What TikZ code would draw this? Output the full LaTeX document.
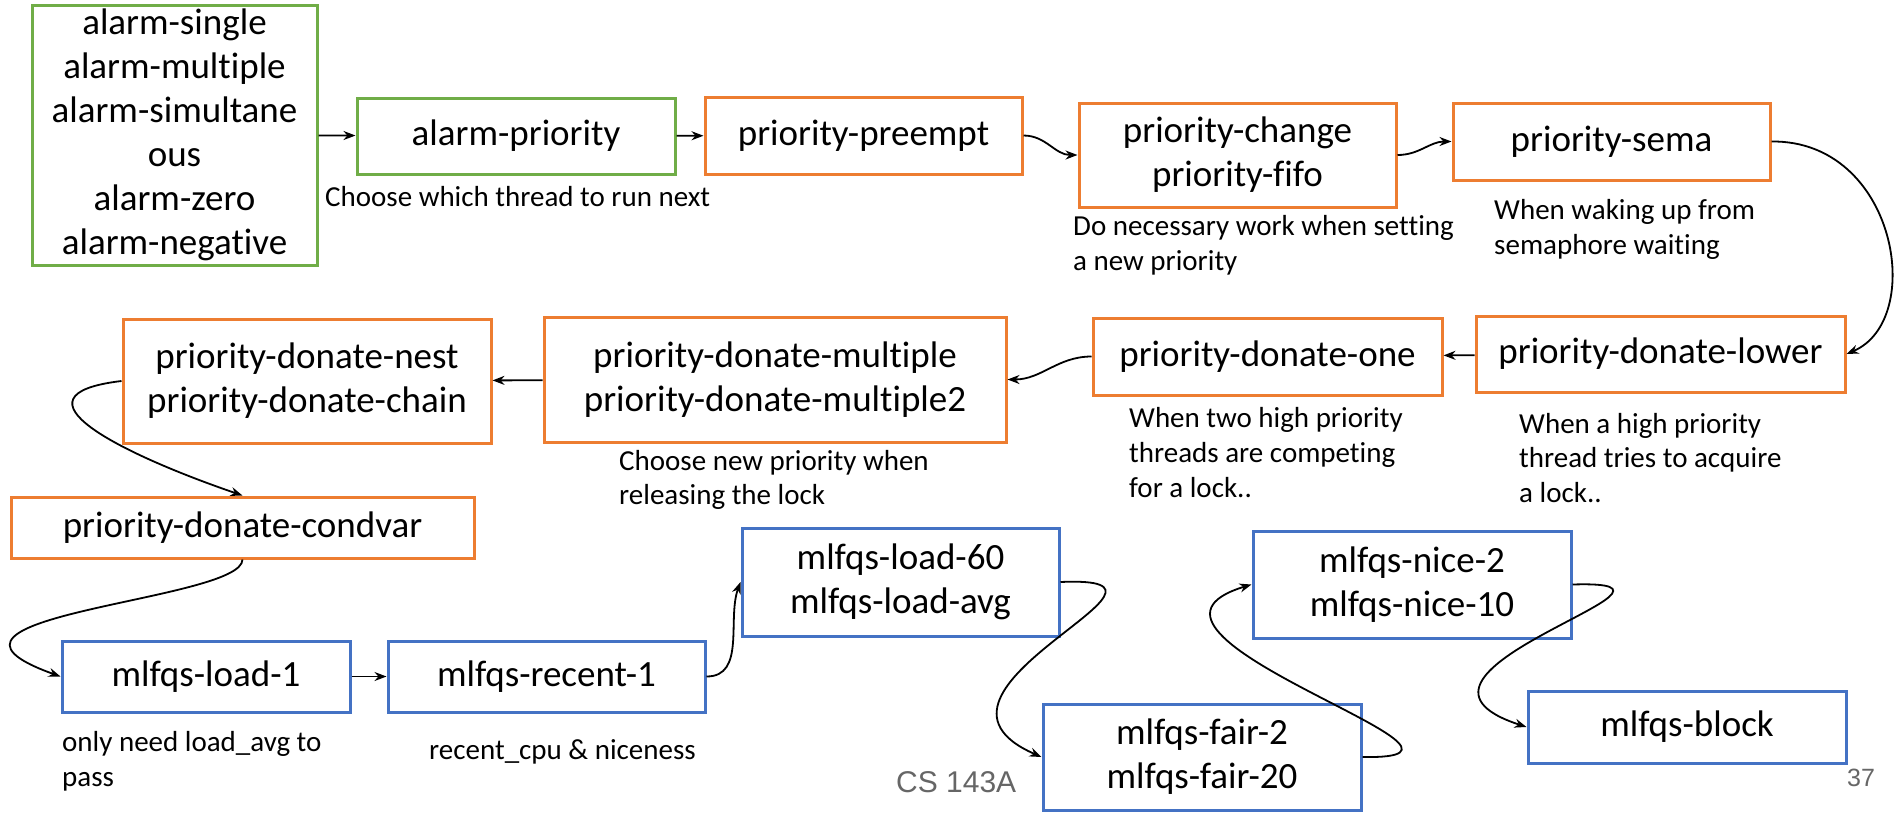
\documentclass[tikz,border=0pt]{standalone}
\usepackage{fontspec}
\setmainfont{Carlito}[Ligatures=NoCommon]
\newfontfamily\slidefont{Liberation Sans}
\usetikzlibrary{arrows.meta,calc}
\definecolor{boxgreen}{HTML}{70AD47}
\definecolor{boxorange}{HTML}{ED7D31}
\definecolor{boxblue}{HTML}{4472C4}
\definecolor{footgray}{HTML}{666666}

\begin{document}
\begin{tikzpicture}[x=1pt,y=1pt,
  box/.style={draw, line width=3pt, inner sep=0pt, align=center,
    font=\fontsize{37}{44}\selectfont},
  greenbox/.style={box, draw=boxgreen},
  orangebox/.style={box, draw=boxorange},
  bluebox/.style={box, draw=boxblue},
  note/.style={anchor=west, align=left, inner sep=0pt,
    font=\fontsize{29}{34.8}\selectfont},
  foot/.style={anchor=west, inner sep=0pt, text=footgray},
  arr/.style={-{Stealth[length=12pt,width=9pt]}, line width=1.8pt},
]
\fill[white] (0,0) rectangle (1895,-812);
\useasboundingbox (0,0) rectangle (1895,-812);

% alarm tests
\node[greenbox, minimum width=285pt, minimum height=260pt] (A) at (174.5,-135)
  {alarm-single\\alarm-multiple\\alarm-simultane\\ous\\alarm-zero\\alarm-negative};
\node[greenbox, minimum width=318pt, minimum height=76pt] (B) at (516,-136) {alarm-priority};

% priority tests
\node[orangebox, minimum width=317pt, minimum height=77pt] (C) at (863.5,-135.5) {priority-preempt};
\node[orangebox, minimum width=317pt, minimum height=104pt] (D) at (1237.5,-155) {priority-change\\priority-fifo};
\node[orangebox, minimum width=317pt, minimum height=77pt] (E) at (1611.5,-141.5) {priority-sema};
\node[orangebox, minimum width=369pt, minimum height=76pt] (F) at (1660.5,-354) {priority-donate-lower};
\node[orangebox, minimum width=349pt, minimum height=77pt] (G) at (1267.5,-356.5) {priority-donate-one};
\node[orangebox, minimum width=462pt, minimum height=125pt] (H) at (775,-379.5) {priority-donate-multiple\\priority-donate-multiple2};
\node[orangebox, minimum width=368pt, minimum height=124pt] (I) at (307,-381) {priority-donate-nest\\priority-donate-chain};
\node[orangebox, minimum width=463pt, minimum height=61pt] (J) at (242.5,-527.5) {priority-donate-condvar};

% mlfqs tests
\node[bluebox, minimum width=288pt, minimum height=71pt] (K) at (206,-676.5) {mlfqs-load-1};
\node[bluebox, minimum width=317pt, minimum height=71pt] (L) at (546.5,-676.5) {mlfqs-recent-1};
\node[bluebox, minimum width=317pt, minimum height=108pt] (M) at (900.5,-582) {mlfqs-load-60\\mlfqs-load-avg};
\node[bluebox, minimum width=318pt, minimum height=106pt] (N) at (1202,-757) {mlfqs-fair-2\\mlfqs-fair-20};
\node[bluebox, minimum width=318pt, minimum height=107pt] (O) at (1412,-584.5) {mlfqs-nice-2\\mlfqs-nice-10};
\node[bluebox, minimum width=318pt, minimum height=72pt] (P) at (1687,-727) {mlfqs-block};

% explanations
\node[note] (nB) at (325,-197) {Choose which thread to run next};
\node[note] (nD) at (1073,-245) {Do necessary work when setting\\a new priority};
\node[note] (nE) at (1494,-229.5) {When waking up from\\semaphore waiting};
\node[note] (nF) at (1519,-458) {When a high priority\\thread tries to acquire\\a lock..};
\node[note] (nG) at (1129,-452.5) {When two high priority\\threads are competing\\for a lock..};
\node[note] (nH) at (619,-480) {Choose new priority when\\releasing the lock};
\node[note] (nK) at (62,-761.5) {only need load\_avg to\\pass};
\node[note] (nL) at (429,-752) {recent\_cpu \& niceness};

% footer
\node[foot, font=\slidefont\fontsize{30}{36}\selectfont] (course) at (896,-782) {CS 143A};
\node[foot, font=\slidefont\fontsize{25}{30}\selectfont] (page) at (1847,-778) {37};

% connectors
\draw[arr] (A) -- (B);
\draw[arr] (B) -- (C);
\draw[arr] (C.east) to[out=0,in=180] (D.west);
\draw[arr] (D.east) to[out=0,in=180] (E.west);
\draw[arr] (E.east) .. controls ($(E.east)+(125,1.5)$) and ($(F.east)+(80,34)$) .. (F.east);
\draw[arr] (F) -- (G);
\draw[arr] (G.west) to[out=180,in=0] (H.east);
\draw[arr] (H) -- (I);
\draw[arr] (I.west) .. controls ($(I.west)+(-118,-14)$) and ($(J.north)+(-122.5,42)$) .. (J.north);
\draw[arr] (J.south) .. controls ($(J.south)+(0,-42)$) and ($(K.west)+(-172,61.5)$) .. (K.west);
\draw[arr] (K) -- (L);
\draw[arr] (L.east) to[out=0,in=250] (M.west);
\draw[arr] (M.east) .. controls ($(M.east)+(161,7)$) and ($(N.west)+(-153,67)$) .. (N.west);
\draw[arr] (N.east) .. controls ($(N.east)+(170,-3)$) and ($(O.west)+(-165,-50)$) .. (O.west);
\draw[arr] (O.east) .. controls ($(O.east)+(160,5)$) and ($(P.west)+(-168,55)$) .. (P.west);
\end{tikzpicture}
\end{document}
